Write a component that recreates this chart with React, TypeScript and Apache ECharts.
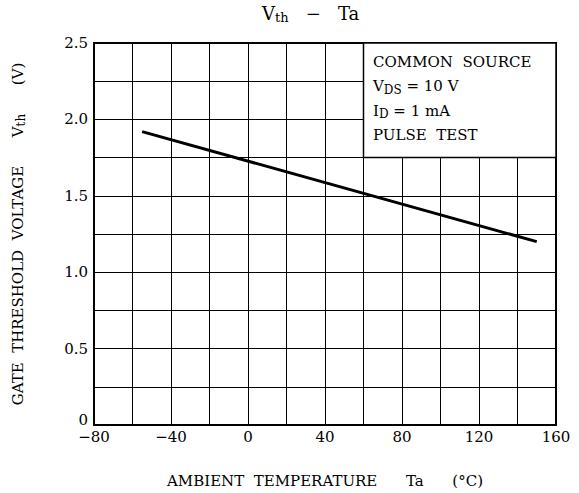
import React, { useEffect, useRef } from "react";
import * as echarts from "echarts";

const temps = [-55, 150];
const vth = [1.92, 1.2];
const xTicks = [-80, -40, 0, 40, 80, 120, 160];
const yTicks = [0, 0.5, 1.0, 1.5, 2.0, 2.5];
const conditionLines = [
  "{a|COMMON  SOURCE}",
  "{a|V}{s|DS}{a| = 10 V}",
  "{a|I}{s|D}{a| = 1 mA}",
  "{a|PULSE  TEST}",
];
const boxRange = { x0: 60, x1: 160, y0: 1.75, y1: 2.5 };

const FONT = "DejaVu Serif";

export default function App() {
  const ref = useRef<HTMLDivElement>(null);
  useEffect(() => {
    if (!ref.current) return;
    const chart = echarts.init(ref.current, null, { renderer: "svg" });
    const rich = {
      a: { fontFamily: FONT, fontSize: 15, color: "#000" },
      s: { fontFamily: FONT, fontSize: 12, color: "#000", verticalAlign: "bottom", padding: [7, 0, 0, 0] },
    };
    const yRich = {
      a: { fontFamily: FONT, fontSize: 15, color: "#000" },
      s: { fontFamily: FONT, fontSize: 12, color: "#000", padding: [7, 0, 0, 0] },
    };
    const option: any = {
      animation: false,
      backgroundColor: "#fff",
      grid: { left: 94, top: 43, width: 462, height: 384, show: true, borderColor: "#000", borderWidth: 2, containLabel: false },
      xAxis: {
        type: "value",
        min: -80,
        max: 160,
        interval: 20,
        name: "AMBIENT  TEMPERATURE      Ta      (°C)",
        nameLocation: "middle",
        nameGap: 48,
        nameTextStyle: { fontFamily: FONT, fontSize: 15, color: "#000" },
        axisLine: { show: true, lineStyle: { color: "#000", width: 2 } },
        axisTick: { show: false },
        splitLine: { show: true, lineStyle: { color: "#000", width: 1 } },
        axisLabel: {
          fontFamily: FONT,
          fontSize: 15,
          color: "#000",
          margin: 4,
          formatter: (v: number) => (xTicks.includes(v) ? (v < 0 ? "\u2212" + Math.abs(v) : String(v)) : ""),
        },
      },
      yAxis: {
        type: "value",
        min: 0,
        max: 2.5,
        interval: 0.25,
        name: "{a|GATE  THRESHOLD  VOLTAGE      V}{s|th}{a|      (V)}",
        nameLocation: "middle",
        nameRotate: 90,
        nameGap: 67,
        nameTextStyle: { rich: yRich },
        axisLine: { show: true, onZero: false, lineStyle: { color: "#000", width: 2 } },
        axisTick: { show: false },
        splitLine: { show: true, lineStyle: { color: "#000", width: 1 } },
        axisLabel: {
          color: "#000",
          margin: 6,
          rich: {
            n: { fontFamily: FONT, fontSize: 15, color: "#000" },
            z: { fontFamily: FONT, fontSize: 15, color: "#000", padding: [0, 0, 10, 0] },
          },
          formatter: (v: number) => {
            const hit = yTicks.find((t) => Math.abs(t - v) < 1e-9);
            if (hit === undefined) return "";
            return hit === 0 ? "{z|0}" : "{n|" + hit.toFixed(1) + "}";
          },
        },
      },
      series: [
        {
          type: "line",
          data: temps.map((t, i) => [t, vth[i]]),
          symbol: "none",
          lineStyle: { color: "#000", width: 3 },
          z: 3,
        },
        {
          type: "line",
          data: [],
          z: 4,
          markArea: {
            silent: true,
            itemStyle: { color: "#fff", borderColor: "#000", borderWidth: 1.5 },
            data: [[{ coord: [boxRange.x0, boxRange.y1] }, { coord: [boxRange.x1, boxRange.y0] }]],
          },
        },
      ],
      graphic: [
        {
          type: "text",
          left: 262,
          top: 4,
          style: {
            text: "{a|V}{s|th}{a|   \u2212   Ta}",
            rich: {
              a: { fontFamily: FONT, fontSize: 18, color: "#000" },
              s: { fontFamily: FONT, fontSize: 13, color: "#000", padding: [9, 0, 0, 0] },
            },
          },
          z: 10,
        },
        ...conditionLines.map((t, i) => ({
          type: "text",
          left: 373,
          top: 54 + i * 24.5,
          style: { text: t, rich },
          z: 10,
        })),
      ],
    };
    chart.setOption(option);
    return () => chart.dispose();
  }, []);
  return <div ref={ref} style={{ position: "fixed", left: 0, top: 0, width: 579, height: 493 }} />;
}
